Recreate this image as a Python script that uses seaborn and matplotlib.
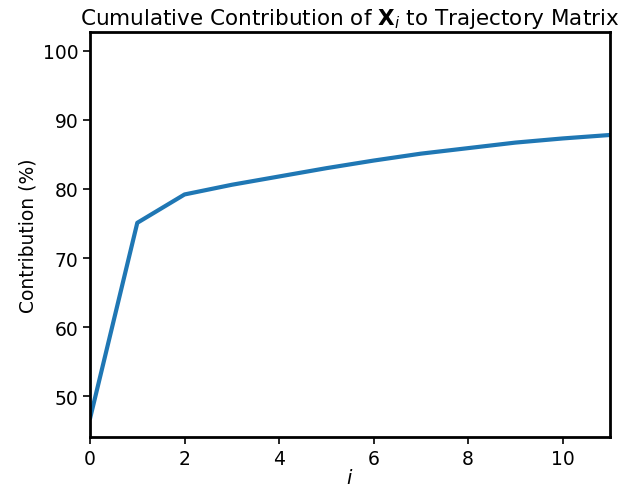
import matplotlib
matplotlib.use("Agg")
import matplotlib.pyplot as plt
import seaborn as sns
import pandas as pd

# Cumulative contribution of each elementary matrix X_i
component_index = [0, 1, 2, 3, 4, 5, 6, 7, 8, 9, 10, 11]
cumulative_pct = [46.8, 75.1, 79.2, 80.6, 81.8, 83.0, 84.1, 85.1, 85.9, 86.7, 87.3, 87.8]

df = pd.DataFrame({"i": component_index, "contribution": cumulative_pct})

sns.set_theme(style="ticks")
plt.rcParams.update({
    "font.family": ["DejaVu Sans"],
    "axes.edgecolor": "black",
    "axes.linewidth": 2.0,
    "xtick.color": "black",
    "ytick.color": "black",
    "xtick.major.width": 1.2,
    "ytick.major.width": 1.2,
    "xtick.major.size": 5,
    "ytick.major.size": 5,
    "text.color": "black",
    "axes.labelcolor": "black",
})

fig, ax = plt.subplots(figsize=(6.21, 4.89), dpi=100)
sns.lineplot(data=df, x="i", y="contribution", ax=ax, color="#1f77b4", linewidth=3)

ax.set_xlim(0, 11)
ax.set_ylim(44.1, 102.66)
ax.set_xticks([0, 2, 4, 6, 8, 10])
ax.set_yticks([50, 60, 70, 80, 90, 100])
ax.tick_params(labelsize=13.5)
ax.set_xlabel("$i$", fontsize=14, labelpad=0)
ax.set_ylabel("Contribution (%)", fontsize=13.5)
ax.set_title(r"Cumulative Contribution of $\mathbf{X}_i$ to Trajectory Matrix", fontsize=15.5)

fig.subplots_adjust(left=0.145, right=0.982, top=0.932, bottom=0.104)
fig.savefig("out.png", dpi=100)
